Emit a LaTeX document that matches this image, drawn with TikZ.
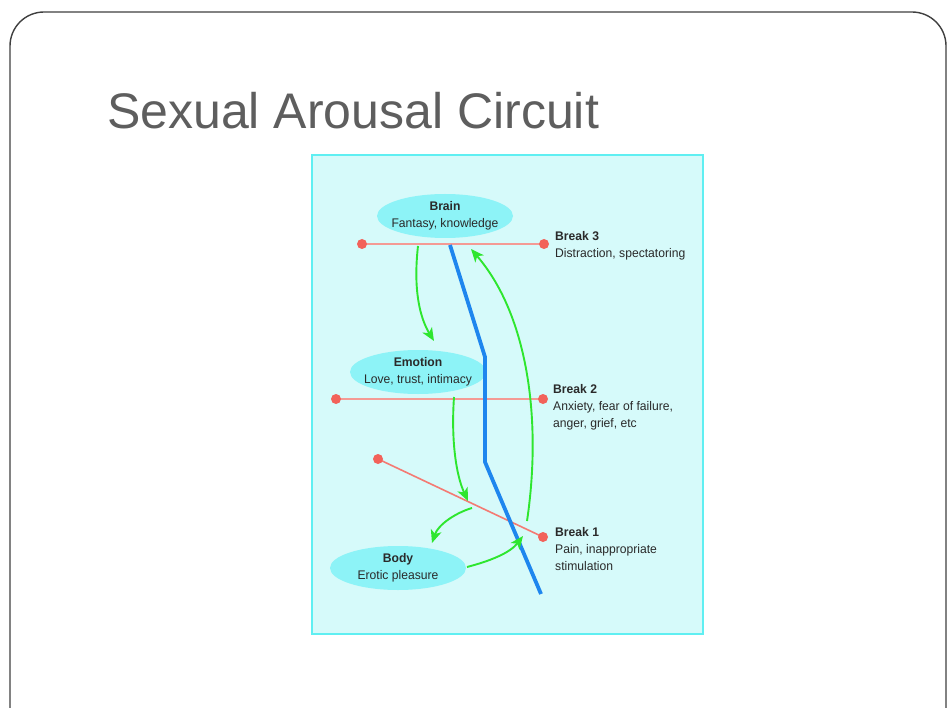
\documentclass[tikz,border=0pt]{standalone}
\usepackage{fontspec}
\setmainfont{Liberation Sans}
\newfontfamily\cond[FakeStretch=0.97]{Liberation Sans}
\usetikzlibrary{shapes.geometric,arrows.meta}
\definecolor{panel}{HTML}{D6FAFA}
\definecolor{panelline}{HTML}{5FEFF2}
\definecolor{blob}{HTML}{8DF3F7}
\definecolor{brk}{HTML}{F2625A}
\definecolor{brkline}{HTML}{F49A94}
\definecolor{flow}{HTML}{2EE62E}
\definecolor{wire}{HTML}{1E86EE}
\definecolor{ink}{HTML}{2A2A2A}
\definecolor{titlegray}{HTML}{5E5E5E}
\tikzset{
  organ/.style={ellipse, fill=blob, draw=none, minimum width=136pt, minimum height=44pt, inner xsep=-8pt, inner ysep=-4pt, align=center, font=\cond\fontsize{12.5}{17}\selectfont, text=ink},
  breakline/.style={draw=brkline, line width=2.8pt},
  dot/.style={circle, fill=brk, minimum size=10pt, inner sep=0pt},
  breaktext/.style={anchor=base west, align=left, font=\cond\fontsize{12.5}{17}\selectfont, text=ink, inner sep=0pt},
  flowarrow/.style={draw=flow, line width=1.9pt, -{Stealth[length=13pt,width=11pt,inset=3.5pt]}},
}
\begin{document}
\begin{tikzpicture}[x=1pt,y=-1pt]
\useasboundingbox (0,0) rectangle (949,708);
\fill[white] (0,0) rectangle (949,708);
% slide frame
\draw[draw=black!75, line width=1.4pt, rounded corners=34pt] (10,740) -- (10,12) -- (946,12) -- (946,740);
% title
\node[anchor=base west, inner sep=0pt, text=titlegray, font=\fontsize{50}{56}\selectfont] (title) at (107,129) {Sexual Arousal Circuit};
% panel
\draw[fill=panel, draw=panelline, line width=1.2pt] (312,155) rectangle (703,634);
% break lines
\coordinate (b3l) at (362,244); \coordinate (b3r) at (544,244);
\coordinate (b2l) at (336,399); \coordinate (b2r) at (543,399);
\coordinate (b1l) at (378,459); \coordinate (b1r) at (543,537);
\draw[breakline] (b3l) -- (b3r);
\draw[breakline] (b2l) -- (b2r);
\draw[draw=brk!85, line width=1.6pt] (b1l) -- (b1r);
% organ nodes
\node[organ] (brain) at (445,216) {\textbf{Brain}\\Fantasy, knowledge};
\node[organ] (emotion) at (418,372) {\textbf{Emotion}\\Love, trust, intimacy};
\node[organ] (body) at (398,568) {\textbf{Body}\\Erotic pleasure};
% blue wire
\coordinate (w0) at (450,245); \coordinate (w1) at (485,357);
\coordinate (w2) at (485,462); \coordinate (w3) at (541,594);
\draw[draw=wire, line width=3.8pt] (w0) -- (w1) -- (w2) -- (w3);
% dots
\foreach \p in {b3l,b3r,b2l,b2r,b1l,b1r} \node[dot] at (\p) {};
% break labels (anchor = baseline of last line)
\node[breaktext] (t3) at (555,258) {\textbf{Break 3}\\Distraction, spectatoring};
\node[breaktext] (t2) at (553,427) {\textbf{Break 2}\\Anxiety, fear of failure,\\anger, grief, etc};
\node[breaktext] (t1) at (555,570) {\textbf{Break 1}\\Pain, inappropriate\\stimulation};
% green flow arrows
\coordinate (g1s) at (418,246); \coordinate (g1e) at (434,341);
\draw[flowarrow] (g1s) .. controls (413,290) and (420,318) .. (g1e);
\coordinate (g2s) at (454,397); \coordinate (g2e) at (468,501);
\draw[flowarrow] (g2s) .. controls (451,440) and (456,475) .. (g2e);
\coordinate (g3s) at (472,508); \coordinate (g3e) at (432,543);
\draw[flowarrow] (g3s) .. controls (455,513) and (438,525) .. (g3e);
\coordinate (g4s) at (467,567); \coordinate (g4e) at (523,536);
\draw[flowarrow] (g4s) .. controls (490,561) and (510,553) .. (g4e);
\coordinate (g5s) at (527,521); \coordinate (g5e) at (471,249);
\draw[flowarrow] (g5s) .. controls (542,420) and (528,315) .. (g5e);
\end{tikzpicture}
\end{document}
